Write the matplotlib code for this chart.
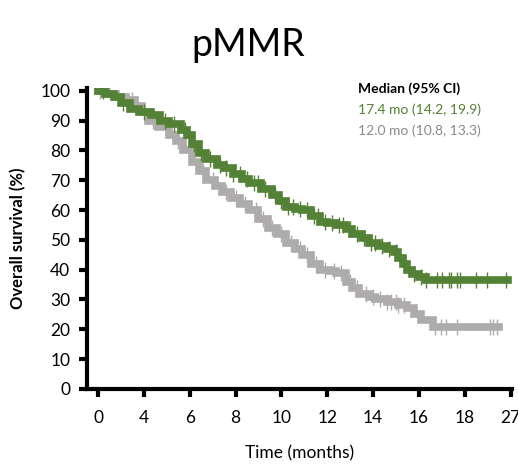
import numpy as np
import matplotlib
matplotlib.use('Agg')
import matplotlib.pyplot as plt

plt.rcParams['font.family'] = ['Lato', 'DejaVu Sans']

# x positions are tick slots (0, 2, ..., 18); labels as printed on the chart
tick_pos = [0, 2, 4, 6, 8, 10, 12, 14, 16, 18]
tick_labels = ['0', '4', '6', '8', '10', '12', '14', '16', '18', '27']
y_ticks = list(range(0, 101, 10))

# green arm (step knots)
green_t = [0, 0.3, 0.7, 1.0, 1.4, 1.8, 2.3, 2.7, 3.1, 3.6, 3.9, 4.1, 4.4, 4.7,
           5.2, 5.5, 5.9, 6.3, 6.6, 7.1, 7.6, 7.9, 8.2, 8.6, 8.9, 9.3, 9.7,
           10.0, 10.4, 10.8, 11.1, 11.5, 11.8, 12.2, 12.6, 12.9, 13.1, 13.3,
           13.5, 13.7, 14.0, 14.3, 17.9]
green_s = [100, 99, 98, 96, 94, 93, 92, 90, 89, 87, 85, 82, 79, 77,
           75, 74, 72, 70.5, 69, 67, 65, 63, 61, 60.5, 60, 58, 56,
           55.5, 55, 53.5, 52, 50.5, 49, 48, 47, 46, 44, 42,
           40, 38.5, 37.5, 36.5, 36.5]
green_cens = [0.2, 1.1, 2.0, 2.9, 3.3, 3.8, 4.2, 4.5, 4.9, 5.3, 5.6, 5.9, 6.2,
              6.5, 6.8, 7.0, 7.3, 7.7, 8.0, 8.3, 8.5, 8.8, 9.1, 9.4, 9.6, 9.9,
              10.2, 10.5, 10.7, 11.0, 11.3, 11.6, 11.9, 12.1, 12.4, 12.7, 13.0,
              13.4, 13.8, 14.1, 14.3, 14.8, 15.0, 15.3, 15.4, 15.65, 15.8, 16.5,
              16.95, 17.8]

# gray arm
gray_t = [0, 0.4, 0.8, 1.2, 1.6, 1.9, 2.2, 2.6, 3.1, 3.4, 3.7, 4.1, 4.4, 4.7,
          5.1, 5.4, 5.8, 6.2, 6.6, 7.0, 7.4, 7.8, 8.2, 8.6, 8.9, 9.3, 9.7,
          10.1, 10.4, 10.8, 11.1, 11.4, 11.8, 12.1, 12.6, 13.1, 13.5, 13.8,
          14.1, 14.6, 17.5]
gray_s = [100, 99, 98, 97, 95, 93, 90, 88, 85, 83, 80, 76, 73, 70,
          68, 66, 64, 62, 60, 57, 54, 52, 49, 47, 45, 42, 40,
          39.5, 39, 36, 34, 32, 31, 30, 29, 28, 27, 25,
          23, 20.7, 20.7]
gray_cens = [0.1, 1.5, 2.4, 3.0, 3.5, 4.0, 4.6, 5.0, 5.6, 6.0, 6.4, 6.9, 7.2,
             7.6, 8.0, 8.4, 8.8, 9.1, 9.5, 9.9, 10.3, 10.6, 11.0, 11.3, 11.7,
             12.0, 12.3, 12.6, 12.8, 13.0, 13.1, 13.35, 14.7, 14.95, 15.2,
             15.65, 17.1, 17.25, 17.4]

green = '#538135'
gray = '#AEABAB'


def cens_y(t, s, c):
    idx = np.searchsorted(t, c, side='right') - 1
    return np.array(s)[idx]


fig = plt.figure(figsize=(5.18, 4.72), dpi=100)
ax = fig.add_axes([0.168, 0.176, 0.820, 0.638])

for t, s, c, col in [(gray_t, gray_s, gray_cens, gray),
                     (green_t, green_s, green_cens, green)]:
    ax.step(t, s, where='post', color=col, lw=5.5, solid_joinstyle='miter')
    ax.plot(c, cens_y(t, s, c), ls='none', marker='|', ms=12, mew=1.0,
            color=col)

ax.set_xlim(-0.48, 18.05)
ax.set_ylim(0, 101)
ax.set_xticks(tick_pos)
ax.set_xticklabels(tick_labels)
ax.set_yticks(y_ticks)
for sp in ['top', 'right']:
    ax.spines[sp].set_visible(False)
for sp in ['left', 'bottom']:
    ax.spines[sp].set_linewidth(3)
ax.tick_params(width=3, length=6, labelsize=12.5)
ax.tick_params(axis='x', pad=9)
ax.tick_params(axis='y', pad=6)

ax.set_xlabel('Time (months)', fontsize=12.5, labelpad=14)
ax.set_ylabel('Overall survival (%)', fontsize=12, fontweight='bold',
              labelpad=10)

fig.text(0.479, 0.905, 'pMMR', fontsize=27, ha='center', va='center')

fig.text(0.691, 0.813, 'Median (95% CI)', fontsize=10, fontweight='bold',
         color='black', va='center')
fig.text(0.691, 0.767, '17.4 mo (14.2, 19.9)', fontsize=10, color=green,
         va='center')
fig.text(0.691, 0.724, '12.0 mo (10.8, 13.3)', fontsize=10, color='#8C8A8A',
         va='center')

fig.savefig('out.png', dpi=100)
